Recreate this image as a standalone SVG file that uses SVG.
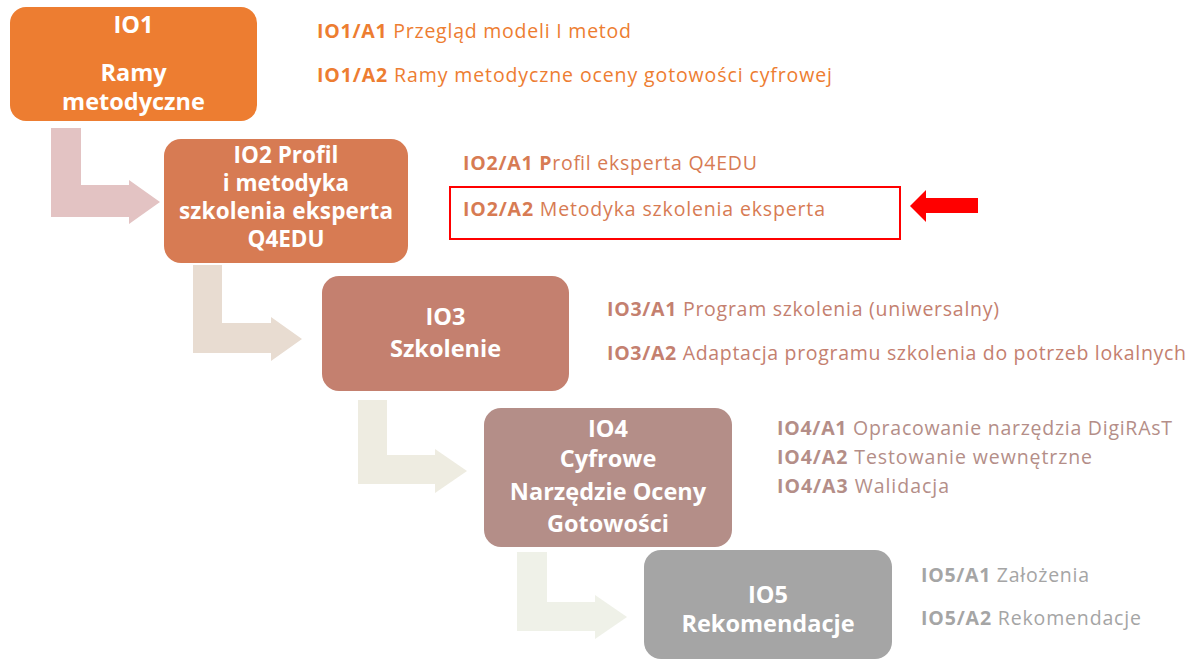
<svg xmlns="http://www.w3.org/2000/svg" width="1191" height="660" viewBox="0 0 1191 660">
  <style>
    .box-label { font-family: "Open Sans", Lato, sans-serif; font-weight: 700; font-size: 23.5px; fill: #ffffff; text-anchor: middle; }
    .box-label.tight { font-size: 22.5px; }
    .item { font-family: "Open Sans", Lato, sans-serif; font-size: 19.5px; }
    .item .code { font-weight: 700; }
    .c1 { fill: #ED7D31; }
    .c2 { fill: #D77B53; }
    .c3 { fill: #C4806F; }
    .c4 { fill: #B48E88; }
    .c5 { fill: #A5A5A5; }
  </style>
  <rect width="1191" height="660" fill="#ffffff"/>

  <!-- bent arrows leading from one output to the next -->
  <g id="connectors">
    <polygon points="51,128 81,128 81,185 129,185 129,180 160,202 129,224 129,217 51,217" fill="#E3C3C3"/>
    <polygon points="193,265 222,265 222,323 271,323 271,317 302,339 271,361 271,353 193,353" fill="#E8DCD1"/>
    <polygon points="358,400 387,400 387,455 435,455 435,449 467,471 435,493 435,484 358,484" fill="#EEECE1"/>
    <polygon points="517,552 547,552 547,602 595,602 595,595 627,617 595,639 595,631 517,631" fill="#EFF1E8"/>
  </g>

  <g id="io1">
    <rect x="10" y="7" width="247" height="114" rx="16" class="c1"/>
    <text class="box-label" x="133.5" y="33">IO1</text>
    <text class="box-label" x="133.5" y="81">Ramy</text>
    <text class="box-label" x="133.5" y="110">metodyczne</text>
  </g>
  <g id="io1-items" class="item c1">
    <text x="317" y="38" textLength="314" lengthAdjust="spacing"><tspan class="code">IO1/A1</tspan> Przegląd modeli I metod</text>
    <text x="317" y="82" textLength="515" lengthAdjust="spacing"><tspan class="code">IO1/A2</tspan> Ramy metodyczne oceny gotowości cyfrowej</text>
  </g>

  <g id="io2">
    <rect x="164" y="139" width="244" height="124" rx="17" class="c2"/>
    <text class="box-label tight" x="286" y="163">IO2 Profil</text>
    <text class="box-label tight" x="286" y="191">i metodyka</text>
    <text class="box-label tight" x="286" y="219" textLength="214" lengthAdjust="spacing">szkolenia eksperta</text>
    <text class="box-label tight" x="286" y="247">Q4EDU</text>
  </g>
  <g id="io2-items" class="item c2">
    <text x="463" y="170" textLength="294" lengthAdjust="spacing"><tspan class="code">IO2/A1 P</tspan>rofil eksperta Q4EDU</text>
    <text x="463" y="216" textLength="362" lengthAdjust="spacing"><tspan class="code">IO2/A2</tspan> Metodyka szkolenia eksperta</text>
  </g>

  <!-- highlight on IO2/A2 -->
  <g id="highlight">
    <rect x="450" y="187" width="450" height="52" fill="none" stroke="#FF0000" stroke-width="2"/>
    <polygon points="910,206 926,190 926,198 978,198 978,213 926,213 926,222" fill="#FF0000"/>
  </g>

  <g id="io3">
    <rect x="322" y="276" width="247" height="115" rx="17" class="c3"/>
    <text class="box-label" x="445.5" y="325">IO3</text>
    <text class="box-label" x="445.5" y="357">Szkolenie</text>
  </g>
  <g id="io3-items" class="item c3">
    <text x="607" y="316" textLength="392" lengthAdjust="spacing"><tspan class="code">IO3/A1</tspan> Program szkolenia (uniwersalny)</text>
    <text x="607" y="360" textLength="579" lengthAdjust="spacing"><tspan class="code">IO3/A2</tspan> Adaptacja programu szkolenia do potrzeb lokalnych</text>
  </g>

  <g id="io4">
    <rect x="484" y="408" width="248" height="139" rx="17" class="c4"/>
    <text class="box-label" x="608" y="437">IO4</text>
    <text class="box-label" x="608" y="467">Cyfrowe</text>
    <text class="box-label" x="608" y="500">Narzędzie Oceny</text>
    <text class="box-label" x="608" y="532">Gotowości</text>
  </g>
  <g id="io4-items" class="item c4">
    <text x="777" y="435" textLength="395" lengthAdjust="spacing"><tspan class="code">IO4/A1</tspan> Opracowanie narzędzia DigiRAsT</text>
    <text x="777" y="464" textLength="315" lengthAdjust="spacing"><tspan class="code">IO4/A2</tspan> Testowanie wewnętrzne</text>
    <text x="777" y="493" textLength="172" lengthAdjust="spacing"><tspan class="code">IO4/A3</tspan> Walidacja</text>
  </g>

  <g id="io5">
    <rect x="644" y="550" width="248" height="109" rx="17" class="c5"/>
    <text class="box-label" x="768" y="603">IO5</text>
    <text class="box-label" x="768" y="632">Rekomendacje</text>
  </g>
  <g id="io5-items" class="item c5">
    <text x="921" y="582" textLength="168" lengthAdjust="spacing"><tspan class="code">IO5/A1</tspan> Założenia</text>
    <text x="921" y="625" textLength="220" lengthAdjust="spacing"><tspan class="code">IO5/A2</tspan> Rekomendacje</text>
  </g>
</svg>
